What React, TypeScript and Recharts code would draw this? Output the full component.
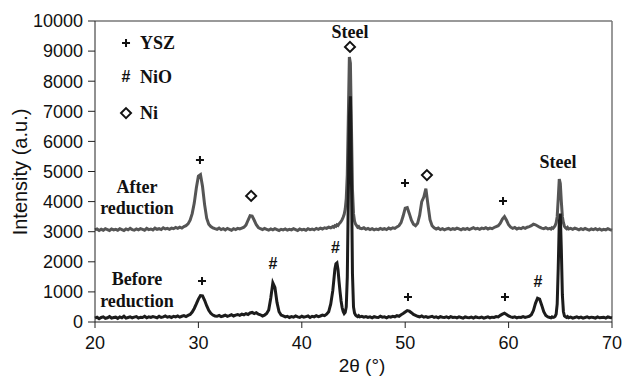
import React from 'react';
import { LineChart, Line, XAxis, YAxis, ReferenceLine, ReferenceDot } from 'recharts';

// 2θ scan positions (denser around the sharp steel peaks)
const twoTheta = [
  20, 20.2, 20.4, 20.6, 20.8, 21, 21.2, 21.4, 21.6, 21.8,
  22, 22.2, 22.4, 22.6, 22.8, 23, 23.2, 23.4, 23.6, 23.8,
  24, 24.2, 24.4, 24.6, 24.8, 25, 25.2, 25.4, 25.6, 25.8,
  26, 26.2, 26.4, 26.6, 26.8, 27, 27.2, 27.4, 27.6, 27.8,
  28, 28.2, 28.4, 28.6, 28.8, 29,
  29.2, 29.4, 29.6, 29.8, 30, 30.2, 30.4, 30.6, 30.8, 31,
  31.2, 31.4, 31.6, 31.8, 32, 32.2, 32.4, 32.6, 32.8, 33,
  33.2, 33.4, 33.6, 33.8, 34, 34.2, 34.4, 34.6, 34.8, 35,
  35.2, 35.4, 35.6, 35.8, 36, 36.2, 36.4, 36.6, 36.8, 37,
  37.2, 37.4, 37.6, 37.8, 38, 38.2, 38.4, 38.6, 38.8, 39,
  39.2, 39.4, 39.6, 39.8, 40, 40.2, 40.4, 40.6, 40.8, 41,
  41.2, 41.4, 41.6, 41.8, 42, 42.2, 42.4, 42.6, 42.8, 43,
  43.1, 43.2, 43.3, 43.4, 43.5, 43.6, 43.7, 43.8, 43.9, 44,
  44.1, 44.2, 44.3, 44.4, 44.5, 44.6, 44.7, 44.8, 44.9, 45,
  45.1, 45.2, 45.3, 45.4, 45.5, 45.6,
  45.8, 46, 46.2, 46.4, 46.6, 46.8, 47, 47.2, 47.4, 47.6,
  47.8, 48, 48.2, 48.4, 48.6, 48.8, 49, 49.2, 49.4, 49.6,
  49.8, 50, 50.2, 50.4, 50.6, 50.8, 51, 51.2, 51.4, 51.6,
  51.8, 52, 52.2, 52.4, 52.6, 52.8, 53, 53.2, 53.4, 53.6,
  53.8, 54, 54.2, 54.4, 54.6, 54.8, 55, 55.2, 55.4, 55.6,
  55.8, 56, 56.2, 56.4, 56.6, 56.8, 57, 57.2, 57.4, 57.6,
  57.8, 58, 58.2, 58.4, 58.6, 58.8, 59, 59.2, 59.4, 59.6,
  59.8, 60, 60.2, 60.4, 60.6, 60.8, 61, 61.2, 61.4, 61.6,
  61.8, 62, 62.2, 62.4, 62.6, 62.8, 63, 63.2, 63.4, 63.6,
  63.8, 64,
  64.1, 64.2, 64.3, 64.4, 64.5, 64.6, 64.7, 64.8, 64.9, 65,
  65.1, 65.2, 65.3, 65.4, 65.5, 65.6, 65.7, 65.8,
  66, 66.2, 66.4, 66.6, 66.8, 67, 67.2, 67.4, 67.6, 67.8,
  68, 68.2, 68.4, 68.6, 68.8, 69, 69.2, 69.4, 69.6, 69.8,
  70,
];

const beforeReduction = [
  130, 160, 110, 150, 170, 120, 140, 180, 130, 150,
  160, 120, 170, 140, 190, 130, 150, 170, 140, 160,
  180, 130, 160, 150, 190, 140, 170, 150, 180, 160,
  140, 190, 150, 170, 200, 160, 180, 150, 190, 170,
  200, 160, 190, 210, 180, 220,
  250, 330, 450, 600, 760, 880, 870, 720, 540, 390,
  290, 230, 200, 190, 220, 180, 200, 230, 190, 210,
  240, 200, 230, 250, 220, 260, 240, 280, 250, 300,
  320, 280, 310, 260, 240, 200, 230, 280, 400, 800,
  1300, 1150, 650, 340, 230, 200, 170, 190, 150, 180,
  160, 200, 170, 150, 190, 160, 180, 200, 150, 190,
  170, 210, 180, 200, 230, 210, 260, 340, 600, 1050,
  1400, 1750, 1930, 1960, 1750, 1350, 1000, 700, 480, 350,
  280, 320, 500, 1500, 4200, 6800, 7500, 4800, 1600, 500,
  300, 230, 200, 180, 210, 170,
  190, 160, 180, 150, 170, 140, 180, 160, 150, 190,
  160, 170, 140, 180, 160, 190, 170, 210, 190, 240,
  280, 330, 380, 360, 310, 250, 220, 190, 170, 200,
  160, 180, 150, 170, 190, 150, 170, 140, 180, 160,
  150, 170, 140, 180, 150, 160, 140, 170, 150, 130,
  170, 150, 140, 160, 130, 170, 150, 140, 160, 130,
  150, 170, 140, 160, 150, 180, 170, 220, 260, 290,
  250, 200, 170, 150, 170, 140, 160, 150, 180, 150,
  170, 190, 240, 380, 620, 790, 760, 560, 340, 220,
  170, 150,
  140, 170, 150, 160, 190, 260, 600, 1800, 3300, 3600,
  2400, 900, 350, 200, 170, 150, 180, 140,
  160, 130, 150, 170, 140, 160, 130, 150, 170, 140,
  160, 150, 130, 170, 140, 150, 160, 130, 170, 150,
  140,
];

const afterReduction = [
  3060, 3090, 3040, 3080, 3050, 3100, 3070, 3040, 3090, 3060,
  3080, 3050, 3100, 3070, 3040, 3090, 3060, 3110, 3070, 3050,
  3090, 3060, 3100, 3080, 3050, 3110, 3070, 3090, 3060, 3120,
  3080, 3100, 3070, 3130, 3090, 3110, 3080, 3120, 3100, 3140,
  3110, 3150, 3120, 3170, 3200, 3260,
  3380, 3600, 3950, 4450, 4850, 4900, 4500, 3900, 3450, 3250,
  3170, 3130, 3100, 3080, 3120, 3070, 3100, 3060, 3110, 3080,
  3050, 3100, 3070, 3110, 3090, 3120, 3150, 3220, 3380, 3530,
  3520, 3380, 3230, 3140, 3100, 3070, 3110, 3080, 3050, 3090,
  3060, 3100, 3070, 3040, 3080, 3060, 3090, 3050, 3080, 3060,
  3100, 3070, 3040, 3090, 3060, 3080, 3050, 3100, 3070, 3090,
  3060, 3110, 3080, 3120, 3090, 3130, 3110, 3150, 3130, 3170,
  3150, 3200, 3180, 3230, 3210, 3260, 3300, 3340, 3400, 3480,
  3580, 3750, 4100, 4900, 6800, 8800, 8600, 6500, 4400, 3600,
  3350, 3250, 3200, 3150, 3170, 3120,
  3100, 3130, 3080, 3110, 3070, 3100, 3060, 3090, 3070, 3110,
  3080, 3100, 3070, 3120, 3090, 3130, 3110, 3160, 3200, 3300,
  3520, 3780, 3800, 3600, 3380, 3250, 3200, 3280, 3550, 4000,
  4150, 4430, 3900, 3400, 3200, 3130, 3090, 3120, 3070, 3100,
  3060, 3090, 3110, 3070, 3100, 3080, 3120, 3090, 3060, 3100,
  3080, 3110, 3070, 3100, 3130, 3090, 3110, 3080, 3120, 3100,
  3130, 3090, 3120, 3100, 3140, 3170, 3200, 3280, 3420, 3500,
  3380, 3230, 3150, 3110, 3140, 3090, 3120, 3100, 3140, 3110,
  3150, 3170, 3200, 3250, 3230, 3190, 3150, 3120, 3100, 3130,
  3090, 3110,
  3090, 3130, 3110, 3150, 3200, 3300, 3500, 4100, 4750, 4600,
  4000, 3500, 3300, 3180, 3130, 3100, 3140, 3090,
  3110, 3080, 3120, 3090, 3060, 3100, 3070, 3110, 3080, 3050,
  3090, 3070, 3100, 3060, 3090, 3050, 3080, 3060, 3100, 3070,
  3050,
];

const xTicks = [20, 30, 40, 50, 60, 70];
const yTicks = [0, 1000, 2000, 3000, 4000, 5000, 6000, 7000, 8000, 9000, 10000];

// phase markers: [2θ, intensity, symbol]
const peakMarks: [number, number, string][] = [
  [23.0, 9270, '+'],
  [23.0, 8140, '#'],
  [23.0, 6940, 'diamond'],
  [44.66, 9140, 'diamond'],
  [30.15, 5380, '+'],
  [35.1, 4190, 'diamond'],
  [49.98, 4620, '+'],
  [52.1, 4880, 'diamond'],
  [59.46, 4020, '+'],
  [30.35, 1360, '+'],
  [37.2, 1960, '#'],
  [43.25, 2490, '#'],
  [50.27, 830, '+'],
  [59.65, 830, '+'],
  [62.84, 1360, '#'],
];

// text labels: [2θ, intensity, text, anchor]
const textLabels: [number, number, string, string][] = [
  [24.35, 9270, 'YSZ', 'start'],
  [24.35, 8140, 'NiO', 'start'],
  [24.35, 6940, 'Ni', 'start'],
  [44.66, 9630, 'Steel', 'middle'],
  [64.78, 5310, 'Steel', 'middle'],
  [24.06, 4480, 'After', 'middle'],
  [24.06, 3790, 'reduction', 'middle'],
  [24.06, 1430, 'Before', 'middle'],
  [24.06, 700, 'reduction', 'middle'],
];

const rows = twoTheta.map((t, i) => ({ t, before: beforeReduction[i], after: afterReduction[i] }));

const serif = '"Liberation Serif", "Times New Roman", serif';
const sans = '"Liberation Sans", Arial, sans-serif';

const markShape = (sym: string) => (props: any) => {
  const { cx, cy } = props;
  if (sym === 'diamond') {
    return (
      <path
        d={`M${cx},${cy - 5} L${cx + 5},${cy} L${cx},${cy + 5} L${cx - 5},${cy} Z`}
        fill="#fff"
        stroke="#111"
        strokeWidth={2}
      />
    );
  }
  if (sym === '+') {
    return (
      <path
        d={`M${cx - 4},${cy} L${cx + 4},${cy} M${cx},${cy - 4} L${cx},${cy + 4}`}
        stroke="#111"
        strokeWidth={2}
        fill="none"
      />
    );
  }
  return (
    <text x={cx} y={cy} textAnchor="middle" dominantBaseline="central" fontFamily={sans} fontWeight="bold" fontSize={16} fill="#111">
      {sym}
    </text>
  );
};

const labelShape = (txt: string, anchor: string) => (props: any) => (
  <text x={props.cx} y={props.cy} textAnchor={anchor as any} dominantBaseline="central" fontFamily={serif} fontWeight="bold" fontSize={18} fill="#111">
    {txt}
  </text>
);

export default function App() {
  return (
    <div style={{ position: 'absolute', left: 0, top: 0, width: 624, height: 381, background: '#fff' }}>
      <LineChart width={624} height={381} data={rows} margin={{ top: 21, right: 12, bottom: 0, left: 0 }}>
        <XAxis
          dataKey="t"
          type="number"
          domain={[20, 70]}
          ticks={xTicks}
          height={59}
          tickSize={6}
          tickMargin={8}
          stroke="#222"
          tick={{ fill: '#111', fontSize: 18, fontFamily: sans }}
        />
        <YAxis
          type="number"
          domain={[0, 10000]}
          ticks={yTicks}
          width={95}
          tickSize={7}
          tickMargin={5}
          stroke="#222"
          tick={{ fill: '#111', fontSize: 18, fontFamily: sans }}
        />
        <ReferenceLine y={10000} stroke="#777" strokeWidth={1.5} />
        <ReferenceLine x={70} stroke="#777" strokeWidth={1.5} />
        <Line dataKey="after" stroke="#555" strokeWidth={3} dot={false} isAnimationActive={false} />
        <Line dataKey="before" stroke="#1c1c1c" strokeWidth={3} dot={false} isAnimationActive={false} />
        {peakMarks.map(([x, y, s], i) => (
          <ReferenceDot key={'m' + i} x={x} y={y} r={0} shape={markShape(s)} />
        ))}
        {textLabels.map(([x, y, s, a], i) => (
          <ReferenceDot key={'l' + i} x={x} y={y} r={0} shape={labelShape(s, a)} />
        ))}
      </LineChart>
      <div
        style={{
          position: 'absolute', left: 20, top: 172, transform: 'translate(-50%, -50%) rotate(-90deg)',
          whiteSpace: 'nowrap', fontFamily: sans, fontSize: 20, color: '#111',
        }}
      >
        Intensity (a.u.)
      </div>
      <div
        style={{
          position: 'absolute', left: 362, top: 366, transform: 'translate(-50%, -50%)',
          whiteSpace: 'nowrap', fontFamily: sans, fontSize: 19, color: '#111',
        }}
      >
        2θ (°)
      </div>
    </div>
  );
}
